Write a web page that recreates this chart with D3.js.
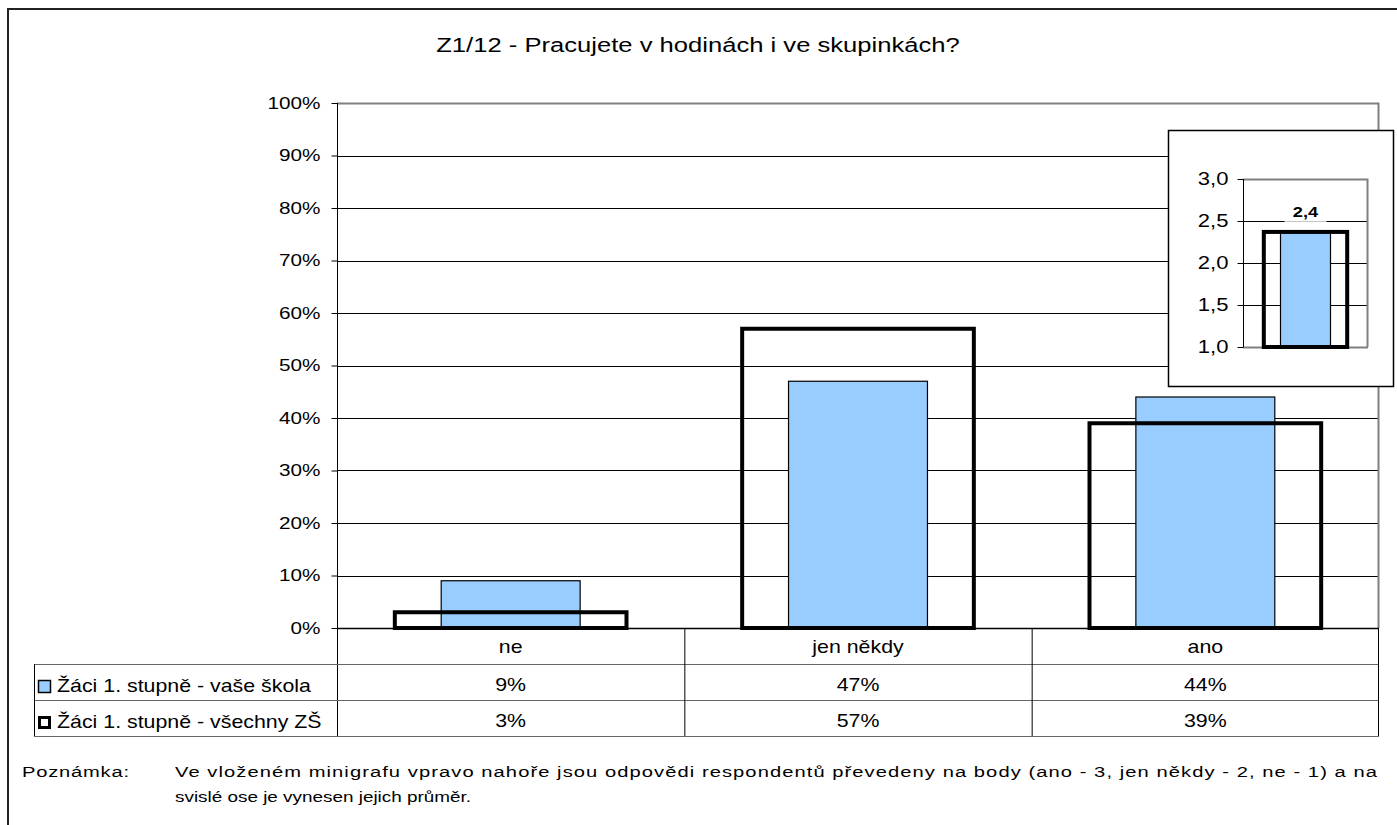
<!DOCTYPE html>
<html>
<head>
<meta charset="utf-8">
<script src="https://cdn.jsdelivr.net/npm/d3@7"></script>
<style>
  html, body { margin: 0; padding: 0; background: #fff; }
  svg { display: block; font-family: "Liberation Sans", Arial, sans-serif; }
</style>
</head>
<body>
<svg id="chart" width="1397" height="825"></svg>
<script>
// Survey question and answer categories
const title = "Z1/12 - Pracujete v hodinách i ve skupinkách?";
const categories = ["ne", "jen někdy", "ano"];
const seriesNames = ["Žáci 1. stupně - vaše škola", "Žáci 1. stupně - všechny ZŠ"];
const schoolValues = [9, 47, 44];     // % – vaše škola
const allValues = [3, 57, 39];        // % – všechny ZŠ
const yTicks = [0, 10, 20, 30, 40, 50, 60, 70, 80, 90, 100];

// Mini chart: mean score (ano 3, jen někdy 2, ne 1)
const miniSchoolMean = [2.36];
const miniAllMean = [2.37];
const miniTicks = [1.0, 1.5, 2.0, 2.5, 3.0];

const noteLabel = "Poznámka:";
const noteLines = [
  "Ve vloženém minigrafu vpravo nahoře jsou odpovědi respondentů převedeny na body (ano - 3, jen někdy - 2, ne - 1) a na",
  "svislé ose je vynesen jejich průměr."
];

const cz = d3.formatLocale({ decimal: ",", thousands: " ", grouping: [3], currency: ["", " Kč"] });
const fmt1 = cz.format(".1f");

const svg = d3.select("#chart");
const BLUE = "#99CCFF";
const SX = 1.22;   // horizontal glyph stretch used for all labels

// text placed at (x,y), glyphs widened horizontally
function label(parent, x, y, str, size, anchor, sx = SX) {
  return parent.append("text")
    .attr("transform", `translate(${x},${y}) scale(${sx},1)`)
    .attr("text-anchor", anchor || "start")
    .attr("font-size", size).attr("fill", "#000").text(str);
}
// widen d3 axis tick labels in place
function stretchTicks(axisG, offset, size, sx = SX) {
  axisG.selectAll(".tick text")
    .attr("x", 0)
    .attr("transform", `translate(${offset},0) scale(${sx},1)`)
    .attr("font-size", size).attr("fill", "#000")
    .attr("font-family", "Liberation Sans, Arial, sans-serif");
}

// Outer frame
svg.append("rect").attr("x", 8).attr("y", 9).attr("width", 1400).attr("height", 830)
  .attr("fill", "none").attr("stroke", "#222").attr("stroke-width", 2);

// Title
label(svg, 698, 52, title, 20, "middle", 1.28);

// Main plot
const plot = { left: 337, right: 1379, top: 103, bottom: 628 };
const x = d3.scaleBand().domain(categories).range([plot.left, plot.right]).padding(0);
const y = d3.scaleLinear().domain([0, 100]).range([plot.bottom, plot.top]);

const g = svg.append("g");

// Gridlines
g.selectAll("line.grid").data(yTicks.filter(t => t > 0 && t < 100)).join("line")
  .attr("x1", plot.left).attr("x2", plot.right)
  .attr("y1", d => Math.round(y(d)) + 0.5).attr("y2", d => Math.round(y(d)) + 0.5)
  .attr("stroke", "#000").attr("stroke-width", 1);

// Plot area border (top and right)
g.append("path")
  .attr("d", `M${plot.left},${y(100) + 0.5}H${plot.right - 0.5}V${plot.bottom}`)
  .attr("fill", "none").attr("stroke", "#808080").attr("stroke-width", 2);

// Y axis
const yAxis = d3.axisLeft(y).tickValues(yTicks).tickFormat(d => d + "%").tickSize(6).tickPadding(11);
const ya = g.append("g").attr("transform", `translate(${plot.left + 0.5},0)`).call(yAxis);
ya.select(".domain").attr("stroke", "#000").attr("d", `M0,${y(100)}V736`);
ya.selectAll(".tick line").attr("stroke", "#000");
stretchTicks(ya, -17, 17);

const bw = x.bandwidth();
// Blue bars (vaše škola)
g.selectAll("rect.school").data(schoolValues).join("rect")
  .attr("x", (d, i) => x(categories[i]) + bw * 0.3)
  .attr("width", bw * 0.4)
  .attr("y", d => y(d)).attr("height", d => y(0) - y(d))
  .attr("fill", BLUE).attr("stroke", "#000").attr("stroke-width", 1.2);

// Outline bars (všechny ZŠ)
g.selectAll("rect.all").data(allValues).join("rect")
  .attr("x", (d, i) => x(categories[i]) + bw * 0.1665)
  .attr("width", bw * 0.667)
  .attr("y", d => y(d)).attr("height", d => y(0) - y(d))
  .attr("fill", "none").attr("stroke", "#000").attr("stroke-width", 4);

// X axis line
g.append("line").attr("x1", plot.left).attr("x2", plot.right)
  .attr("y1", plot.bottom + 0.5).attr("y2", plot.bottom + 0.5)
  .attr("stroke", "#000").attr("stroke-width", 1.5);

// Data table
const rowH = 36;
const tableTop = plot.bottom;
const tableLeft = 34;
const tbl = svg.append("g");
[tableTop + rowH, tableTop + 2 * rowH, tableTop + 3 * rowH].forEach(yy => {
  tbl.append("line").attr("x1", tableLeft).attr("x2", plot.right)
    .attr("y1", yy + 0.5).attr("y2", yy + 0.5).attr("stroke", "#666").attr("stroke-width", 1);
});
categories.forEach((c, i) => {
  if (i > 0) tbl.append("line").attr("x1", x(c) + 0.5).attr("x2", x(c) + 0.5)
    .attr("y1", tableTop).attr("y2", tableTop + 3 * rowH).attr("stroke", "#000");
});
tbl.append("line").attr("x1", plot.right - 0.5).attr("x2", plot.right - 0.5)
  .attr("y1", tableTop).attr("y2", tableTop + 3 * rowH).attr("stroke", "#000");
tbl.append("line").attr("x1", tableLeft + 0.5).attr("x2", tableLeft + 0.5)
  .attr("y1", tableTop + rowH).attr("y2", tableTop + 3 * rowH).attr("stroke", "#000");

// header: categories
categories.forEach(c => label(tbl, x(c) + bw / 2, tableTop + 25, c, 17.5, "middle"));

// series rows
const rows = [schoolValues, allValues];
rows.forEach((vals, r) => {
  const top = tableTop + rowH * (r + 1);
  vals.forEach((v, i) => label(tbl, x(categories[i]) + bw / 2, top + 27, v + "%", 17.5, "middle"));
  if (r === 0) {
    tbl.append("rect").attr("x", 38.5).attr("y", top + 16.5).attr("width", 12).attr("height", 12)
      .attr("fill", BLUE).attr("stroke", "#000").attr("stroke-width", 1.5);
  } else {
    tbl.append("rect").attr("x", 39.5).attr("y", top + 17.5).attr("width", 10).attr("height", 10)
      .attr("fill", "#fff").attr("stroke", "#000").attr("stroke-width", 3);
  }
  label(tbl, 57, top + 28, seriesNames[r], 17.5, "start");
});

// Mini chart (inset)
svg.append("rect").attr("x", 1168.5).attr("y", 130.5).attr("width", 225).attr("height", 256)
  .attr("fill", "#fff").attr("stroke", "#000").attr("stroke-width", 1.5);

const mp = { left: 1243, right: 1368, top: 179, bottom: 347 };
const mx = d3.scaleBand().domain(["průměr"]).range([mp.left, mp.right]).padding(0);
const my = d3.scaleLinear().domain([1, 3]).range([mp.bottom, mp.top]);
const mg = svg.append("g");
mg.selectAll("line.grid").data(miniTicks.filter(t => t > 1 && t < 3)).join("line")
  .attr("x1", mp.left).attr("x2", mp.right)
  .attr("y1", d => Math.round(my(d)) + 0.5).attr("y2", d => Math.round(my(d)) + 0.5)
  .attr("stroke", "#000");
mg.append("path")
  .attr("d", `M${mp.left},${my(3) + 0.5}H${mp.right - 0.5}V${mp.bottom}`)
  .attr("fill", "none").attr("stroke", "#808080").attr("stroke-width", 2);
mg.append("line").attr("x1", mp.left).attr("x2", mp.right)
  .attr("y1", mp.bottom + 0.5).attr("y2", mp.bottom + 0.5).attr("stroke", "#808080").attr("stroke-width", 2);

const myAxis = d3.axisLeft(my).tickValues(miniTicks).tickFormat(fmt1).tickSize(6).tickPadding(9);
const mya = mg.append("g").attr("transform", `translate(${mp.left + 0.5},0)`).call(myAxis);
mya.select(".domain").attr("d", `M0,${my(3)}V${mp.bottom}`).attr("stroke", "#000");
mya.selectAll(".tick line").attr("stroke", "#000");
stretchTicks(mya, -15, 17.5, 1.26);

const mbw = mx.bandwidth();
mg.selectAll("rect.ms").data(miniSchoolMean).join("rect")
  .attr("x", mx("průměr") + mbw * 0.3).attr("width", mbw * 0.4)
  .attr("y", d => my(d)).attr("height", d => my(1) - my(d))
  .attr("fill", BLUE).attr("stroke", "#000").attr("stroke-width", 1.2);
mg.selectAll("rect.ma").data(miniAllMean).join("rect")
  .attr("x", mx("průměr") + mbw * 0.1665).attr("width", mbw * 0.667)
  .attr("y", d => my(d)).attr("height", d => my(1) - my(d))
  .attr("fill", "none").attr("stroke", "#000").attr("stroke-width", 4);

// value label of the school mean
miniSchoolMean.forEach(v => {
  const cx = mx("průměr") + mbw / 2;
  const ty = my(v) - 16;
  mg.append("rect").attr("x", cx - 21).attr("y", ty - 14).attr("width", 42).attr("height", 19)
    .attr("fill", "#fff");
  label(mg, cx, ty, fmt1(v), 14, "middle", 1.3).attr("font-weight", "bold");
});

// Note (first line justified to the table width)
const note = svg.append("g");
label(note, 22, 777, noteLabel, 15.5, "start", 1.3)
  .attr("textLength", 107 / 1.3).attr("lengthAdjust", "spacing");
noteLines.forEach((t, i) => {
  const tx = label(note, 175, 777 + i * 25, t, 15.5, "start", i === 0 ? 1.3 : 1.22);
  if (i === 0) tx.attr("textLength", 1202 / 1.3).attr("lengthAdjust", "spacing");
});
</script>
</body>
</html>
